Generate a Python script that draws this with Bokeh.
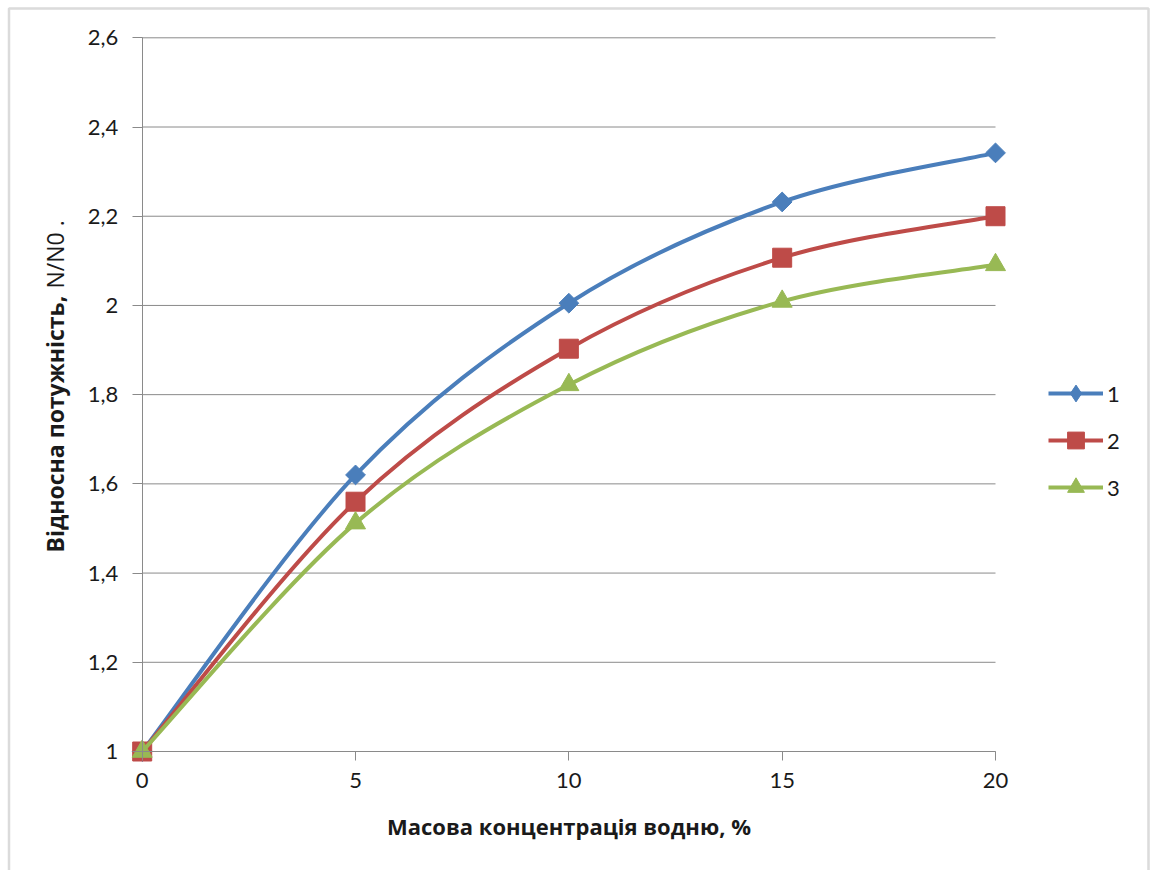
import numpy as np
from bokeh.plotting import figure
from bokeh.models import (FixedTicker, CustomJSTickFormatter, Legend, LegendItem,
                          Label, BoxAnnotation, Range1d)
from bokeh.embed import file_html
from bokeh.resources import INLINE

# --- data -------------------------------------------------------------
concentration = [0, 5, 10, 15, 20]          # mass concentration of hydrogen, %
series_names = ["1", "2", "3"]
power_1 = [1.0, 1.62, 2.005, 2.232, 2.342]
power_2 = [1.0, 1.56, 1.903, 2.107, 2.200]
power_3 = [1.0, 1.512, 1.822, 2.009, 2.091]
x_ticks = [0, 5, 10, 15, 20]
y_ticks = [1.0, 1.2, 1.4, 1.6, 1.8, 2.0, 2.2, 2.4, 2.6]

colors = ["#4A7EBB", "#BE4B48", "#98B954"]
grid_color = "#8a8a8a"
text_color = "#1a1a1a"
FONT = "Lato"
TITLE_FONT = "Open Sans"

# --- layout (pixels) --------------------------------------------------
W, H = 1151, 870
X0_PX, X20_PX = 141.7, 995.0      # where x=0 and x=20 fall
Y1_PX, Y26_PX = 751.0, 37.3       # where y=1 and y=2.6 fall

sx = (X20_PX - X0_PX) / (x_ticks[-1] - x_ticks[0])
sy = (Y1_PX - Y26_PX) / (y_ticks[-1] - y_ticks[0])


def px_to_x(px):
    return x_ticks[0] + (px - X0_PX) / sx


def px_to_y(py):
    return y_ticks[0] + (Y1_PX - py) / sy


# the frame covers the whole canvas; axes are pinned at x=0 and y=1
p = figure(width=W, height=H, output_backend="svg", toolbar_location=None,
           x_range=Range1d(px_to_x(0), px_to_x(W)),
           y_range=Range1d(px_to_y(H), px_to_y(0)),
           min_border=0)
p.outline_line_color = None
p.background_fill_color = "white"
p.border_fill_color = "white"
p.xgrid.visible = False
p.ygrid.visible = False

# horizontal grid lines from the axis to the last category
p.segment(x0=[x_ticks[0]] * len(y_ticks), x1=[x_ticks[-1]] * len(y_ticks),
          y0=y_ticks, y1=y_ticks, line_color=grid_color, line_width=1)

# --- axes -------------------------------------------------------------
xa = p.xaxis[0]
xa.fixed_location = y_ticks[0]
xa.bounds = (x_ticks[0], x_ticks[-1])
xa.ticker = FixedTicker(ticks=x_ticks)
xa.axis_line_color = grid_color
xa.major_tick_in = 0
xa.major_tick_out = 9
xa.major_tick_line_color = grid_color
xa.minor_tick_line_color = None
xa.major_label_text_font = FONT
xa.major_label_text_font_size = "22px"
xa.major_label_text_color = text_color
xa.major_label_standoff = 12
xa.axis_label = "Масова концентрація водню, %"
xa.axis_label_text_font = TITLE_FONT
xa.axis_label_text_font_style = "bold"
xa.axis_label_text_font_size = "22px"
xa.axis_label_text_color = text_color
xa.axis_label_standoff = 20

ya = p.yaxis[0]
ya.fixed_location = x_ticks[0]
ya.bounds = (y_ticks[0], y_ticks[-1])
ya.ticker = FixedTicker(ticks=y_ticks)
ya.formatter = CustomJSTickFormatter(
    code="return (Math.round(tick * 10) / 10).toString().replace('.', ',');")
ya.axis_line_color = grid_color
ya.major_tick_in = 0
ya.major_tick_out = 10
ya.major_tick_line_color = grid_color
ya.minor_tick_line_color = None
ya.major_label_text_font = FONT
ya.major_label_text_font_size = "22px"
ya.major_label_text_color = text_color
ya.major_label_standoff = 14

# rotated y-axis title: bold part followed by a regular part
title_x = px_to_x(54)
p.add_layout(Label(x=title_x, y=px_to_y(552), text="Відносна потужність,",
                   angle=np.pi / 2, text_align="left", text_baseline="alphabetic",
                   text_font=TITLE_FONT, text_font_style="bold",
                   text_font_size="23px", text_color=text_color))
p.add_layout(Label(x=title_x, y=px_to_y(288), text="N/N0 .",
                   angle=np.pi / 2, text_align="left", text_baseline="alphabetic",
                   text_font=TITLE_FONT, text_font_style="normal",
                   text_font_size="23px", text_color=text_color))


# --- smoothed curves through the points (Catmull-Rom as cubic Bezier) --
def bezier_segments(xs, ys):
    n = len(xs)
    out = {k: [] for k in ("x0", "y0", "x1", "y1", "cx0", "cy0", "cx1", "cy1")}
    for i in range(n - 1):
        a, b, c, d = max(i - 1, 0), i, i + 1, min(i + 2, n - 1)
        out["x0"].append(xs[b]); out["y0"].append(ys[b])
        out["x1"].append(xs[c]); out["y1"].append(ys[c])
        out["cx0"].append(xs[b] + (xs[c] - xs[a]) / 6)
        out["cy0"].append(ys[b] + (ys[c] - ys[a]) / 6)
        out["cx1"].append(xs[c] - (xs[d] - xs[b]) / 6)
        out["cy1"].append(ys[c] - (ys[d] - ys[b]) / 6)
    return out


series = [power_1, power_2, power_3]
# (marker in plot, angle, size, marker in legend)
markers = [("square", np.pi / 4, 14, "diamond"),
           ("square", 0, 19, "square"),
           ("triangle", 0, 20, "triangle")]
items = []
for name, vals, col, (mk, ang, size, lmk) in zip(series_names, series, colors, markers):
    seg = bezier_segments(concentration, vals)
    p.bezier(line_color=col, line_width=4, **seg)
    p.scatter(x=concentration, y=vals, marker=mk, angle=ang, size=size,
              fill_color=col, line_color=col, line_width=1)
    # legend swatches (no visible data of their own)
    sw_line = p.line(x=[np.nan], y=[np.nan], line_color=col, line_width=4)
    sw_mark = p.scatter(x=[np.nan], y=[np.nan], marker=lmk, size=10,
                        fill_color=col, line_color=col, line_width=1)
    items.append(LegendItem(label=name, renderers=[sw_line, sw_mark]))

legend = Legend(items=items, location=(1048, H - 508),
                orientation="vertical", padding=0, margin=0,
                border_line_color=None, background_fill_alpha=0,
                glyph_width=55, glyph_height=42, label_height=42,
                spacing=5, label_standoff=4,
                label_text_font=FONT, label_text_font_size="22px",
                label_text_color=text_color)
p.add_layout(legend)

# outer chart border
p.add_layout(BoxAnnotation(left=px_to_x(8.5), right=px_to_x(1148),
                           top=px_to_y(8), bottom=px_to_y(900),
                           fill_color=None, fill_alpha=0,
                           line_color="#888888", line_width=2.5))

open("out.html", "w").write(file_html(p, INLINE))
